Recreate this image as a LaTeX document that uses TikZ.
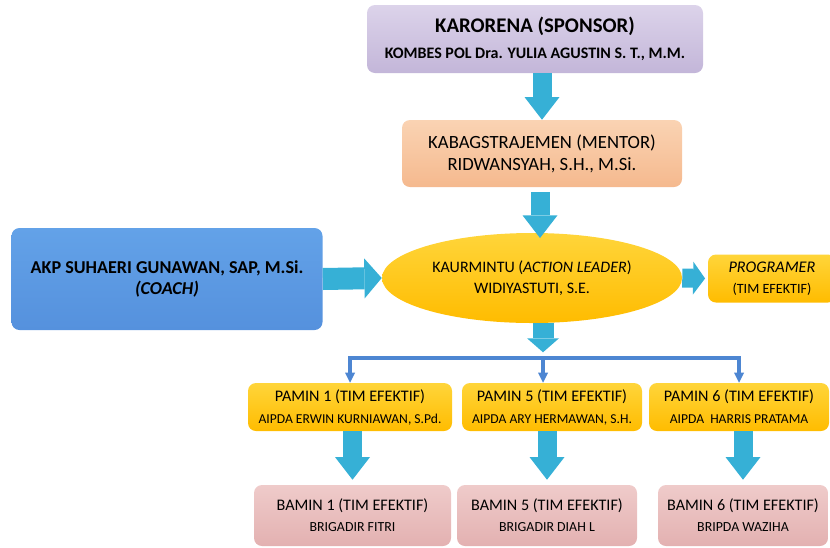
\documentclass[tikz,border=0pt]{standalone}
\usepackage{fontspec}
\setmainfont{Carlito}
\usetikzlibrary{shapes.geometric,arrows.meta,positioning}

\definecolor{sponsortop}{HTML}{DCD3EA}
\definecolor{sponsorbot}{HTML}{C3B6D9}
\definecolor{mentortop}{HTML}{FAD3B3}
\definecolor{mentorbot}{HTML}{F5B98E}
\definecolor{goldtop}{HTML}{FFD53A}
\definecolor{goldbot}{HTML}{FFBC00}
\definecolor{coachtop}{HTML}{63A2E8}
\definecolor{coachbot}{HTML}{5591DD}
\definecolor{bamintop}{HTML}{EFCBCA}
\definecolor{baminbot}{HTML}{E3B1B1}
\definecolor{arrowcyan}{HTML}{36B0D6}
\definecolor{linkblue}{HTML}{4D86D2}

\begin{document}
\begin{tikzpicture}[x=0.75pt, y=-0.75pt,
  box/.style={rounded corners=6pt, align=center, inner sep=0pt, text=black},
  sponsorbox/.style={box, top color=sponsortop, bottom color=sponsorbot,
    minimum width=252pt, minimum height=51pt, font=\fontsize{12}{19.5}\selectfont\bfseries},
  mentorbox/.style={box, top color=mentortop, bottom color=mentorbot,
    minimum width=210pt, minimum height=50.25pt, font=\fontsize{14}{16.5}\selectfont},
  leaderbox/.style={ellipse, align=center, inner sep=0pt, top color=goldtop, bottom color=goldbot,
    minimum width=225pt, minimum height=67.5pt, font=\fontsize{12}{15.75}\selectfont},
  coachbox/.style={box, top color=coachtop, bottom color=coachbot,
    minimum width=233.25pt, minimum height=76.5pt, font=\fontsize{13.6}{15.4}\selectfont\bfseries},
  teambox/.style={box, top color=goldtop, bottom color=goldbot,
    minimum height=36pt, font=\fontsize{10.2}{16.5}\selectfont},
  baminbox/.style={box, top color=bamintop, bottom color=baminbot,
    minimum height=45.75pt, font=\fontsize{10.4}{15.75}\selectfont},
  bigarrow/.style={draw=arrowcyan, line width=14.25pt,
    -{Triangle[length=17pt,width=26.25pt,line width=0pt]}},
  linkline/.style={draw=linkblue, line width=2.6pt,
    -{Triangle[length=7.5pt,width=7.5pt,line width=0pt]}}
]
\useasboundingbox (0,0) rectangle (830,547);

% top of the chart
\node[sponsorbox] (sponsor) at (535,39)
  {{\fontsize{15.6}{18}\selectfont KARORENA (SPONSOR)}\\[-0.5pt]KOMBES POL Dra. YULIA AGUSTIN S. T., M.M.};
\node[mentorbox] (mentor) at (542,153.5)
  {KABAGSTRAJEMEN (MENTOR)\\RIDWANSYAH, S.H., M.Si.};
\node[leaderbox] (leader) at (532,278)
  {KAURMINTU (\textit{ACTION LEADER})\\WIDIYASTUTI, S.E.};
\node[coachbox] (coach) at (167,279)
  {AKP SUHAERI GUNAWAN, SAP, M.Si.\\\textit{(COACH)}};
\node[teambox, minimum width=96pt, font=\fontsize{10.6}{15.75}\selectfont] (programer) at (772,278.5)
  {{\fontsize{12.2}{14}\selectfont\itshape PROGRAMER}\\(TIM EFEKTIF)};

% pamin row
\node[teambox, minimum width=153pt] (pamin1) at (350,407)
  {{\fontsize{12.1}{14}\selectfont PAMIN 1 (TIM EFEKTIF)}\\AIPDA ERWIN KURNIAWAN, S.Pd.};
\node[teambox, minimum width=135pt] (pamin5) at (552,407)
  {{\fontsize{12.1}{14}\selectfont PAMIN 5 (TIM EFEKTIF)}\\AIPDA ARY HERMAWAN, S.H.};
\node[teambox, minimum width=135pt] (pamin6) at (739,407)
  {{\fontsize{12.1}{14}\selectfont PAMIN 6 (TIM EFEKTIF)}\\AIPDA~~HARRIS PRATAMA};

% bamin row
\node[baminbox, minimum width=147.75pt] (bamin1) at (352.5,515.5)
  {{\fontsize{12.1}{14}\selectfont BAMIN 1 (TIM EFEKTIF)}\\BRIGADIR FITRI};
\node[baminbox, minimum width=135pt] (bamin5) at (547,515.5)
  {{\fontsize{12.1}{14}\selectfont BAMIN 5 (TIM EFEKTIF)}\\BRIGADIR DIAH L};
\node[baminbox, minimum width=127.5pt] (bamin6) at (743,515.5)
  {{\fontsize{12.1}{14}\selectfont BAMIN 6 (TIM EFEKTIF)}\\BRIPDA WAZIHA};

\coordinate (drop) at (540,238);
\coordinate (split) at (543,358);

% block arrows
\draw[bigarrow] (mentor.north |- sponsor.south) -- (mentor.north);
\draw[bigarrow, shorten <=3.75pt] (mentor.south -| drop) -- (drop);
\draw[bigarrow, line width=16.5pt, -{Triangle[length=13pt,width=30pt,line width=0pt]}]
  (coach.east) -- (leader.west);
\draw[bigarrow, shorten >=2pt, -{Triangle[length=9pt,width=24.75pt,line width=0pt]}]
  (leader.east) -- (programer.west);
\draw[bigarrow, line width=15.75pt, -{Triangle[length=10.5pt,width=24pt,line width=0pt]}]
  (split |- leader.south) -- ++(0,29);
\foreach \p/\b in {pamin1/bamin1, pamin5/bamin5, pamin6/bamin6}
  \draw[bigarrow, shorten >=3.75pt] (\b.north |- \p.south) -- (\b.north);

% blue links to the pamin row
\draw[linkline] (split) -| (pamin1.north);
\draw[linkline] (split) -| (pamin6.north);
\draw[linkline] (split) -- (split |- pamin5.north);
\end{tikzpicture}
\end{document}
